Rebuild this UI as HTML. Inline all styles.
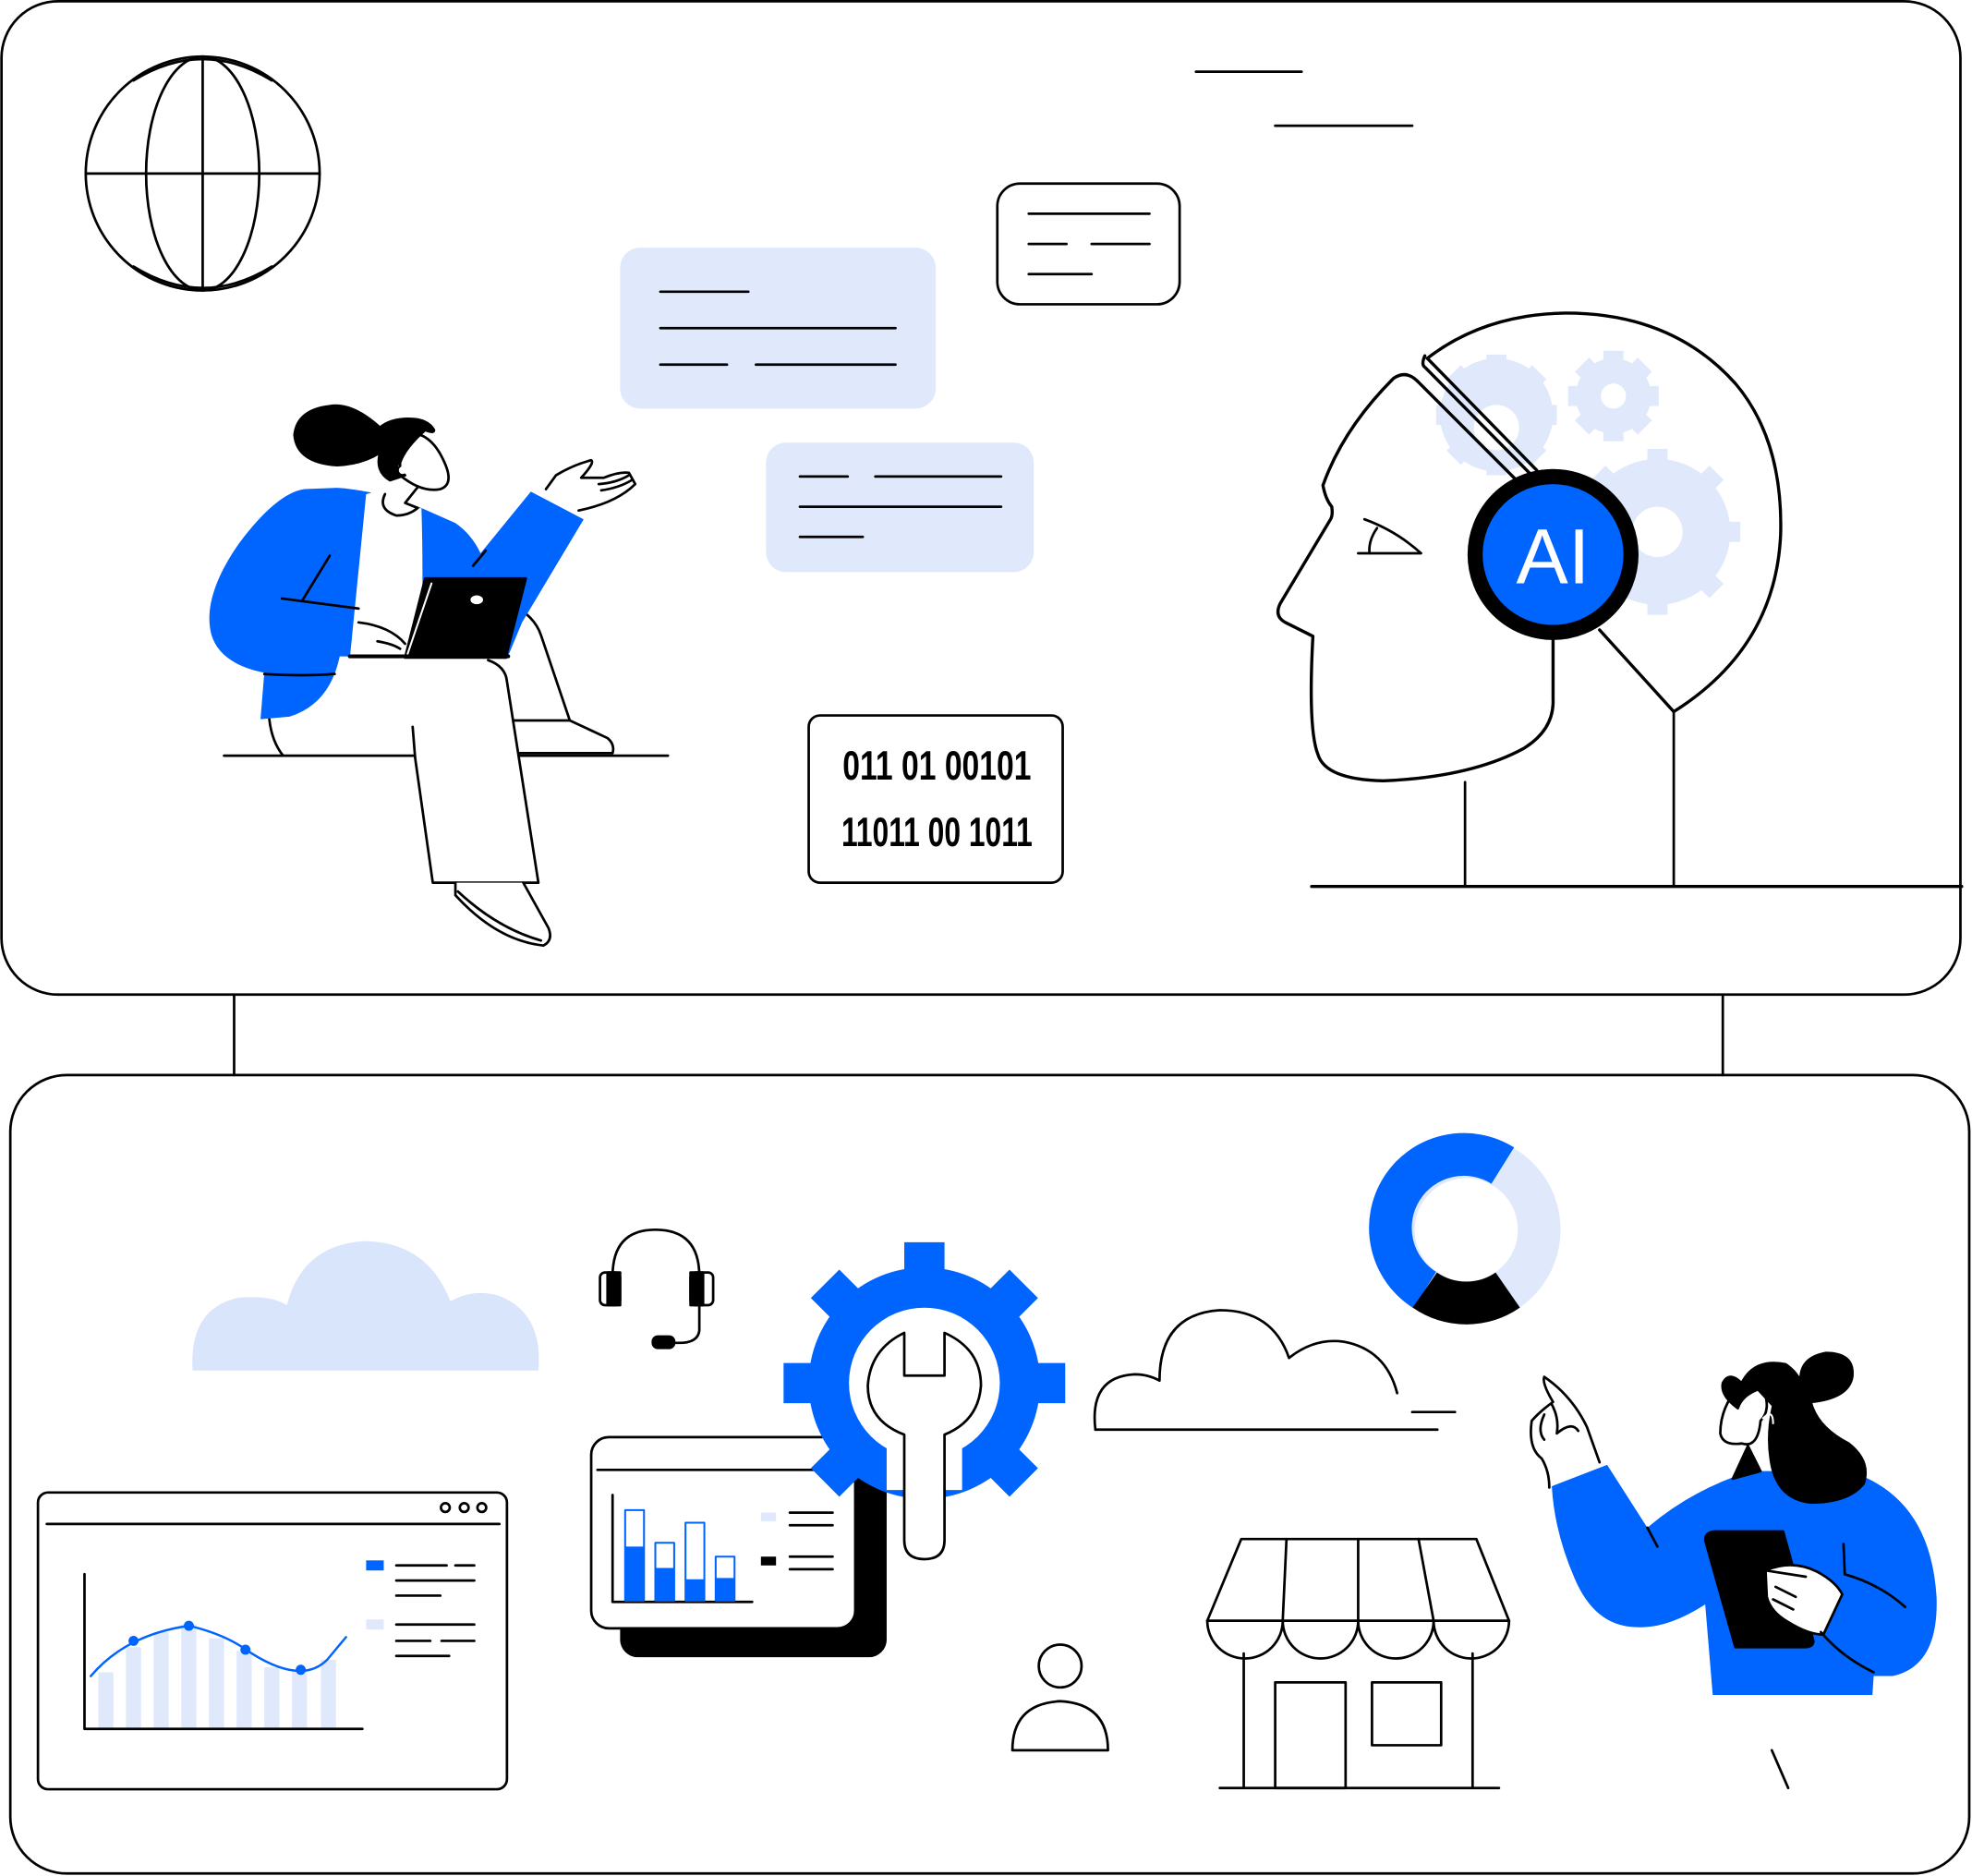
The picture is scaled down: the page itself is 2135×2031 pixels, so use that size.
<!DOCTYPE html>
<html><head><meta charset="utf-8"><style>html,body{margin:0;padding:0;background:#fff}svg{display:block}</style></head>
<body>
<svg width="2135" height="2031" viewBox="0 0 1568 1492" xmlns="http://www.w3.org/2000/svg" fill="none" stroke="#000" stroke-width="2" stroke-linecap="round" stroke-linejoin="round">
<!-- panels -->
<rect x="1" y="1" width="1558" height="790" rx="45"/>
<rect x="8" y="855" width="1558" height="635" rx="45"/>
<line x1="186" y1="791" x2="186" y2="855"/>
<line x1="1370" y1="791" x2="1370" y2="855"/>

<!-- globe -->
<circle cx="161" cy="138" r="93"/>
<line x1="68" y1="138" x2="254" y2="138"/>
<line x1="161" y1="45" x2="161" y2="231"/>
<ellipse cx="161" cy="138" rx="45" ry="93"/>
<path d="M106 64 Q161 30 216 64"/>
<path d="M106 212 Q161 246 216 212"/>

<line x1="951" y1="57" x2="1035" y2="57"/>
<line x1="1014" y1="100" x2="1123" y2="100"/>

<!-- chat box -->
<rect x="793" y="146" width="145" height="96" rx="18"/>
<line x1="818" y1="170" x2="914" y2="170"/>
<line x1="818" y1="194" x2="848" y2="194"/>
<line x1="868" y1="194" x2="914" y2="194"/>
<line x1="818" y1="218" x2="868" y2="218"/>

<rect x="493" y="197" width="251" height="128" rx="16" fill="#dfe9fb" stroke="none"/>
<line x1="525" y1="232" x2="595" y2="232"/>
<line x1="525" y1="261" x2="712" y2="261"/>
<line x1="525" y1="290" x2="578" y2="290"/>
<line x1="601" y1="290" x2="712" y2="290"/>

<rect x="609" y="352" width="213" height="103" rx="16" fill="#dfe9fb" stroke="none"/>
<line x1="636" y1="379" x2="674" y2="379"/>
<line x1="696" y1="379" x2="796" y2="379"/>
<line x1="636" y1="403" x2="796" y2="403"/>
<line x1="636" y1="427" x2="686" y2="427"/>

<!-- binary -->
<rect x="643" y="569" width="202" height="133" rx="9"/>
<text x="745" y="620" text-anchor="middle" font-family="Liberation Sans Narrow, Liberation Sans, sans-serif" font-weight="bold" font-size="33" fill="#000" stroke="none" textLength="150" lengthAdjust="spacingAndGlyphs">011 01 00101</text>
<text x="745" y="673" text-anchor="middle" font-family="Liberation Sans Narrow, Liberation Sans, sans-serif" font-weight="bold" font-size="33" fill="#000" stroke="none" textLength="152" lengthAdjust="spacingAndGlyphs">11011 00 1011</text>

<!-- AI head gears -->
<g fill="#dfe9fb" stroke="none">
<circle cx="1318" cy="423" r="58"/>
<circle cx="1283" cy="315" r="30"/>
<circle cx="1190" cy="330" r="45"/>
<g stroke="#dfe9fb" stroke-width="16" stroke-linecap="butt">
<line x1="1318" y1="357" x2="1318" y2="489"/><line x1="1252" y1="423" x2="1384" y2="423"/>
<line x1="1271" y1="376" x2="1365" y2="470"/><line x1="1365" y1="376" x2="1271" y2="470"/>
<line x1="1283" y1="279" x2="1283" y2="351"/><line x1="1247" y1="315" x2="1319" y2="315"/>
<line x1="1258" y1="290" x2="1308" y2="340"/><line x1="1308" y1="290" x2="1258" y2="340"/>
<line x1="1190" y1="282" x2="1190" y2="378"/><line x1="1142" y1="330" x2="1238" y2="330"/>
<line x1="1156" y1="296" x2="1224" y2="364"/><line x1="1224" y1="296" x2="1156" y2="364"/>
</g></g>
<circle cx="1318" cy="423" r="20" fill="#fff" stroke="none"/>
<circle cx="1283" cy="315" r="10" fill="#fff" stroke="none"/>
<circle cx="1190" cy="340" r="18" fill="#fff" stroke="none"/>
<!-- head outline -->
<path d="M1135 285 Q1180 250 1245 249 Q1330 249 1380 305 Q1418 350 1416 425 Q1412 515 1331 566 L1272 501" stroke-width="2.5"/>
<path d="M1331 566 L1331 705"/>
<path d="M1135 285 L1222 374" stroke-width="2.5"/>
<path d="M1133 283 Q1130 290 1133 292 L1220 380" stroke-width="2.5"/>
<path d="M1127 303 Q1118 294 1108 301 Q1068 341 1052 386 Q1054 397 1059 403 Q1060 410 1058 413 L1018 480 Q1013 490 1022 495 L1044 506 Q1040 580 1048 600 Q1054 620 1100 621 Q1170 618 1212 595 Q1236 580 1235 556 L1235 509" stroke-width="2.5"/>
<path d="M1127 303 L1222 398" stroke-width="2.5"/>
<line x1="1165" y1="622" x2="1165" y2="705"/>
<path d="M1085 413 Q1110 422 1130 440 L1080 440" stroke-width="2"/>
<path d="M1095 420 Q1088 430 1089 440"/>
<circle cx="1235" cy="441" r="62" fill="#0064ff" stroke="#000" stroke-width="12"/>
<text x="1235" y="464" text-anchor="middle" font-family="Liberation Sans, sans-serif" font-size="62" fill="#fff" stroke="none">AI</text>
<line x1="1043" y1="705" x2="1560" y2="705" stroke-width="2.5"/>

<!-- sitting woman -->
<line x1="178" y1="601" x2="531" y2="601"/>
<path d="M214 572 Q216 590 225 601"/>
<path d="M406 480 Q425 490 430 505 L453 573 L483 587 Q489 592 487 599 L412 599" fill="#fff"/>
<line x1="408" y1="573" x2="453" y2="573"/>
<path d="M388 525 Q402 530 403 542 L428 702 L344 702 L330 603 L328 578" fill="#fff"/>
<path d="M362 702 L362 712 Q395 748 432 752 Q440 748 436 738 L416 702" fill="#fff"/>
<path d="M364 709 Q395 738 430 748"/>
<path d="M268 388 Q300 390 335 404 L362 416 Q375 425 382 440 L422 391 L464 413 L415 495 L403 524 L270 522 Q262 560 230 570 L207 572 L210 535 Q175 528 168 505 Q160 475 190 432 Q220 392 242 389 Z" fill="#0064ff" stroke="none"/>
<path d="M291 393 L278 524 L334 524 Q337 470 335 404 L322 406 L302 390 Z" fill="#fff" stroke="none"/>
<path d="M224 476 L285 484"/>
<path d="M240 478 L262 442"/>
<path d="M376 450 L386 438"/>
<path d="M210 536 Q240 538 266 536"/>
<path d="M338 460 L418 460 L402 523 L322 523 Z" fill="#000"/>
<path d="M343 464 L324 520" stroke="#fff" stroke-width="1.5"/>
<ellipse cx="379" cy="477" rx="5" ry="3.5" fill="#fff" stroke="none"/>
<path d="M285 495 Q310 498 322 512 M300 510 Q312 512 318 516"/>
<path d="M278 522 L404 522" stroke-width="3"/>
<!-- head -->
<path d="M306 393 Q300 405 315 410 Q325 410 332 404 L322 400 L334 385" fill="#fff"/>
<path d="M318 345 Q340 340 352 365 Q362 385 350 389 Q335 392 318 378 Z" fill="#fff"/>
<path d="M302 340 Q280 320 262 323 Q236 326 234 346 Q236 368 268 370 Q288 369 302 360 Q298 375 310 382 L322 378 Q312 370 318 368 Q322 356 338 342 Q345 345 345 342 Q340 333 325 333 Q310 333 302 340 Z" fill="#000"/>
<circle cx="320" cy="374" r="3" fill="#fff" stroke="none"/>
<path d="M434 389 L442 378 Q455 370 470 366 Q473 368 462 380 L480 380 Q492 375 500 376 L505 385 Q490 400 460 406"/>
<path d="M476 385 Q490 384 500 378 M478 390 Q492 388 502 382"/>

<!-- bottom: cloud blue -->
<path d="M153 1090 Q150 1040 190 1032 Q215 1030 228 1038 Q240 990 290 987 Q340 988 358 1035 Q375 1025 395 1030 Q432 1043 428 1090 Z" fill="#d8e5fb" stroke="none"/>

<!-- headset -->
<path d="M487 1015 Q487 978 521 978 Q556 978 556 1015"/>
<rect x="477" y="1012" width="16" height="26" rx="4"/>
<rect x="483" y="1012" width="10" height="26" fill="#000"/>
<rect x="549" y="1012" width="18" height="26" rx="4"/>
<rect x="549" y="1012" width="10" height="26" fill="#000"/>
<path d="M556 1038 L556 1058 Q555 1068 540 1068 L530 1068"/>
<rect x="519" y="1063" width="17" height="9" rx="4" fill="#000"/>

<!-- chart window -->
<rect x="30" y="1187" width="373" height="236" rx="8"/>
<line x1="37" y1="1212" x2="397" y2="1212"/>
<circle cx="354" cy="1199" r="3.5"/><circle cx="369" cy="1199" r="3.5"/><circle cx="383" cy="1199" r="3.5"/>
<g fill="#dfe9fb" stroke="none">
<rect x="78" y="1330" width="12" height="45"/><rect x="100" y="1310" width="12" height="65"/>
<rect x="122" y="1298" width="12" height="77"/><rect x="144" y="1292" width="12" height="83"/>
<rect x="166" y="1303" width="12" height="72"/><rect x="188" y="1313" width="12" height="62"/>
<rect x="210" y="1326" width="12" height="49"/><rect x="232" y="1328" width="12" height="47"/>
<rect x="255" y="1320" width="12" height="55"/>
</g>
<path d="M67 1252 L67 1375 L288 1375"/>
<path d="M72 1333 Q100 1300 150 1293 Q180 1300 200 1315 Q240 1340 260 1320 L275 1302" stroke="#0064ff" stroke-width="1.8"/>
<g fill="#0064ff" stroke="none"><circle cx="106" cy="1305" r="4"/><circle cx="150" cy="1293" r="4"/><circle cx="195" cy="1312" r="4"/><circle cx="239" cy="1328" r="4"/></g>
<rect x="291" y="1241" width="14" height="8" fill="#0064ff" stroke="none"/>
<rect x="291" y="1288" width="14" height="8" fill="#dfe9fb" stroke="none"/>
<line x1="315" y1="1245" x2="355" y2="1245"/><line x1="362" y1="1245" x2="377" y2="1245"/>
<line x1="315" y1="1257" x2="377" y2="1257"/><line x1="315" y1="1269" x2="350" y2="1269"/>
<line x1="315" y1="1292" x2="377" y2="1292"/><line x1="315" y1="1305" x2="342" y2="1305"/><line x1="351" y1="1305" x2="377" y2="1305"/>
<line x1="315" y1="1317" x2="357" y2="1317"/>

<!-- dashboard -->
<rect x="493" y="1165" width="212" height="153" rx="14" fill="#000" stroke="none"/>
<rect x="470" y="1143" width="210" height="152" rx="14" fill="#fff"/>
<line x1="475" y1="1169" x2="675" y2="1169"/>
<path d="M487 1189 L487 1274 L598 1274"/>
<g stroke="#0064ff" stroke-width="1.5">
<rect x="497" y="1201" width="15" height="72"/><rect x="521" y="1227" width="15" height="46"/>
<rect x="545" y="1211" width="15" height="62"/><rect x="569" y="1238" width="15" height="35"/></g>
<g fill="#0064ff" stroke="none"><rect x="497" y="1230" width="15" height="43"/><rect x="521" y="1247" width="15" height="26"/><rect x="545" y="1256" width="15" height="17"/><rect x="569" y="1255" width="15" height="18"/></g>
<rect x="605" y="1203" width="12" height="7" fill="#dfe9fb" stroke="none"/>
<rect x="605" y="1238" width="12" height="7" fill="#000" stroke="none"/>
<line x1="628" y1="1203" x2="662" y2="1203"/><line x1="628" y1="1213" x2="662" y2="1213"/>
<line x1="628" y1="1238" x2="662" y2="1238"/><line x1="628" y1="1248" x2="662" y2="1248"/>

<!-- gear + wrench -->
<g stroke="#0064ff" stroke-width="32" stroke-linecap="butt">
<line x1="735" y1="988" x2="735" y2="1212"/><line x1="623" y1="1100" x2="847" y2="1100"/>
<line x1="656" y1="1021" x2="814" y2="1179"/><line x1="814" y1="1021" x2="656" y2="1179"/>
</g>
<circle cx="735" cy="1100" r="92" fill="#0064ff" stroke="none"/>
<circle cx="735" cy="1100" r="60" fill="#fff" stroke="none"/>
<path d="M705 1150 L705 1185 L765 1185 L765 1150 Z" fill="#fff" stroke="none"/>
<path d="M719 1060 L719 1094 L751 1094 L751 1060 Q780 1073 780 1102 Q778 1130 751 1141 L751 1225 Q751 1240 735 1240 Q719 1240 719 1225 L719 1141 Q690 1130 690 1102 Q692 1073 719 1060 Z" fill="#fff"/>

<!-- person icon -->
<circle cx="843" cy="1325" r="17"/>
<path d="M805 1392 Q805 1355 843 1353 Q881 1355 881 1392 Z"/>

<!-- outline cloud -->
<path d="M871 1137 Q866 1095 902 1093 Q913 1093 922 1098 Q922 1045 970 1042 Q1012 1042 1025 1080 Q1045 1064 1068 1067 Q1102 1073 1111 1108"/>
<line x1="871" y1="1137" x2="1143" y2="1137"/>
<line x1="1123" y1="1123" x2="1157" y2="1123"/>

<!-- donut -->
<circle cx="1166" cy="978" r="58" stroke="#dfe9fb" stroke-width="34"/>
<path d="M1195 927 A58 58 0 0 0 1133 1026" stroke="#0064ff" stroke-width="34" stroke-linecap="butt"/>
<path d="M1133 1026 A58 58 0 0 0 1199 1026" stroke="#000" stroke-width="34" stroke-linecap="butt"/>

<!-- store -->
<path d="M987 1224 L1174 1224 L1200 1289 L960 1289 Z" fill="#fff"/>
<line x1="1023" y1="1224" x2="1020" y2="1289"/><line x1="1080" y1="1224" x2="1080" y2="1289"/>
<line x1="1128" y1="1224" x2="1140" y2="1289"/>
<path d="M960 1289 A30 30 0 0 0 1020 1289 A30 30 0 0 0 1080 1289 A30 30 0 0 0 1140 1289 A30 30 0 0 0 1200 1289"/>
<line x1="989" y1="1315" x2="989" y2="1422"/><line x1="1171" y1="1315" x2="1171" y2="1422"/>
<line x1="970" y1="1422" x2="1192" y2="1422"/>
<rect x="1014" y="1338" width="56" height="84"/>
<rect x="1091" y="1338" width="55" height="50"/>

<!-- standing woman -->
<path d="M1234 1182 L1278 1165 L1310 1215 Q1345 1185 1392 1170 L1470 1170 Q1535 1190 1540 1270 Q1542 1325 1505 1333 L1490 1333 L1489 1348 L1362 1348 L1356 1276 Q1325 1296 1300 1294 Q1268 1293 1252 1255 Q1236 1218 1234 1182 Z" fill="#0064ff" stroke="none"/>
<path d="M1310 1215 L1318 1230"/>
<path d="M1466 1228 L1467 1252 Q1495 1260 1515 1278"/>
<path d="M1356 1225 Q1356 1218 1365 1218 L1418 1218 L1442 1305 Q1442 1310 1435 1310 L1380 1310 Z" fill="#000"/>
<path d="M1404 1249 Q1425 1240 1445 1250 Q1460 1258 1465 1268 L1450 1300 Q1438 1300 1422 1290 Q1408 1282 1405 1270 Z" fill="#fff"/>
<path d="M1448 1298 Q1465 1318 1490 1330"/>
<path d="M1404 1249 L1436 1254 M1412 1262 L1428 1270 M1410 1272 L1426 1280"/>
<path d="M1232 1183 Q1232 1170 1226 1160 Q1215 1152 1218 1130 Q1225 1122 1235 1115 Q1226 1100 1228 1095 Q1250 1110 1262 1135 L1272 1163" fill="#fff"/>
<path d="M1234 1117 Q1240 1128 1238 1140 M1228 1125 Q1222 1138 1228 1145 M1238 1140 Q1250 1130 1255 1138"/>
<path d="M1390 1150 L1378 1176 L1400 1170 Z" fill="#000"/>
<path d="M1385 1100 Q1368 1118 1368 1140 Q1370 1150 1385 1148 Q1398 1152 1400 1130 Q1410 1120 1400 1100 Z" fill="#fff"/>
<path d="M1385 1100 Q1395 1080 1420 1085 Q1430 1092 1432 1100 Q1430 1080 1452 1076 Q1475 1076 1473 1095 Q1470 1112 1440 1115 Q1445 1135 1470 1148 Q1488 1162 1482 1180 Q1470 1195 1440 1195 Q1412 1192 1408 1160 Q1405 1140 1410 1118 L1398 1105 Q1385 1110 1382 1120 Q1368 1110 1370 1100 Q1375 1090 1385 1100 Z" fill="#000"/>
<path d="M1402 1128 Q1410 1120 1410 1132" stroke="#fff" stroke-width="1.5"/>
<line x1="1409" y1="1392" x2="1422" y2="1422"/>
</svg>
</body></html>
